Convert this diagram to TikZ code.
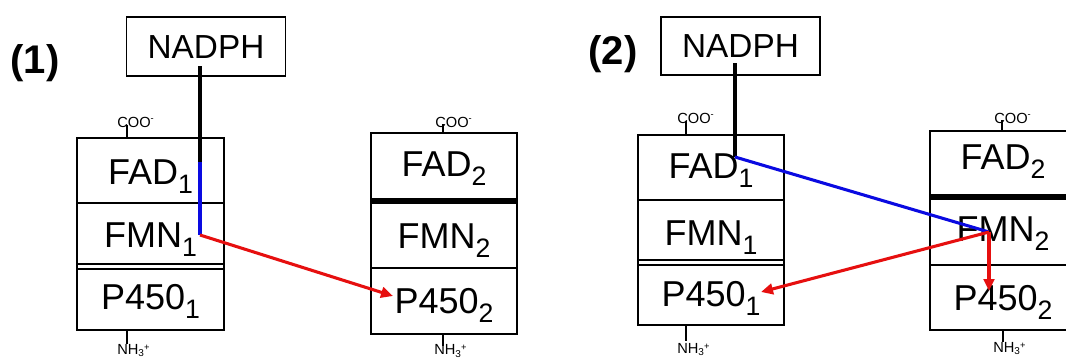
\documentclass[tikz,border=0pt]{standalone}
\usepackage{fontspec}
\setmainfont{Liberation Sans}
\usetikzlibrary{arrows.meta}
\definecolor{eblue}{RGB}{10,10,225}
\definecolor{ered}{RGB}{230,15,15}
\newcommand{\sbs}[1]{\raisebox{-7pt}{\fontsize{20}{20}\selectfont #1}}
\newcommand{\coo}{COO\raisebox{4pt}{\fontsize{7}{7}\selectfont -}}
\newcommand{\nhp}{NH\raisebox{-2pt}{\fontsize{7.5}{7.5}\selectfont 3}\raisebox{3pt}{\fontsize{7}{7}\selectfont +}}
\tikzset{
  outer/.style={draw, line width=2.2pt},
  divline/.style={line width=2.2pt},
  thickdiv/.style={line width=3.8pt},
  dblline/.style={line width=1.4pt},
  big/.style={font=\fontsize{27}{27}\selectfont, inner sep=0pt, anchor=base},
  nadtext/.style={font=\fontsize{25}{25}\selectfont, inner sep=0pt, anchor=base},
  lbl/.style={font=\fontsize{30}{30}\selectfont\bfseries, inner sep=0pt},
  small/.style={font=\fontsize{11}{11}\selectfont, inner sep=0pt, anchor=base west},
  tick/.style={line width=1pt},
  nadbox/.style={draw, line width=1.4pt, minimum width=119.25pt, minimum height=44pt, inner sep=0pt},
  blk/.style={line width=2.8pt, black},
  bl/.style={line width=2.3pt, eblue},
  rd/.style={line width=2.3pt, ered},
  arr/.style={-{Triangle[length=9pt,width=8pt]}},
}
\begin{document}
\begin{tikzpicture}[x=0.75pt,y=-0.75pt]
\useasboundingbox (0,0) rectangle (1066,358);

% ---------- Panel (1) ----------
\node[lbl] (lab1) at (35,63) {(1)};
\node[nadbox] (nad1) at (206,46.5) {};
\node[nadtext] (nad1t) at (206,58) {NADPH};

% left stack
\draw[outer] (77,138) rectangle (224,330);
\draw[divline] (77,203) -- (224,203);
\draw[dblline] (77,264.3) -- (224,264.3);
\draw[dblline] (77,268.7) -- (224,268.7);
\node[big] (fad1a) at (150.5,184) {FAD\sbs{1}};
\node[big] (fmn1a) at (150.5,247) {FMN\sbs{1}};
\node[big] (p1a) at (150.5,309) {P450\sbs{1}};
\node[small] (cooA) at (117,127) {\coo};
\draw[tick] (127,125) -- (127,138);
\node[small] (nhA) at (117,354) {\nhp};
\draw[tick] (127,330) -- (127,344);

% right stack
\draw[outer] (371,133) rectangle (517,334);
\draw[thickdiv] (371,201) -- (517,201);
\draw[divline] (371,268) -- (517,268);
\node[big] (fad2a) at (444,176) {FAD\sbs{2}};
\node[big] (fmn2a) at (444,248) {FMN\sbs{2}};
\node[big] (p2a) at (444,313) {P450\sbs{2}};
\node[small] (cooB) at (435,127) {\coo};
\draw[tick] (443,124) -- (443,133);
\node[small] (nhB) at (434,354.5) {\nhp};
\draw[tick] (443,334) -- (443,346);

% connectors (1)
\coordinate (a1) at (200,66);
\coordinate (a2) at (200,162);
\coordinate (a3) at (200,235);
\coordinate (a4) at (393,296);
\draw[blk] (a1) -- (a2);
\draw[bl] (a2) -- (a3);
\draw[rd,arr] (a3) -- (a4);

% ---------- Panel (2) ----------
\node[lbl] (lab2) at (613,54) {(2)};
\node[nadbox] (nad2) at (740.5,46) {};
\node[nadtext] (nad2t) at (740.5,57) {NADPH};

% left stack
\draw[outer] (638,135) rectangle (784,325);
\draw[divline] (638,200) -- (784,200);
\draw[dblline] (638,260.3) -- (784,260.3);
\draw[dblline] (638,264.7) -- (784,264.7);
\node[big] (fad1b) at (711,178) {FAD\sbs{1}};
\node[big] (fmn1b) at (711,245) {FMN\sbs{1}};
\node[big] (p1b) at (711,306) {P450\sbs{1}};
\node[small] (cooC) at (677,123) {\coo};
\draw[tick] (686,121) -- (686,135);
\node[small] (nhC) at (677,353) {\nhp};
\draw[tick] (686,325) -- (686,341);

% right stack (runs past the right edge)
\draw[outer] (930,131) rectangle (1076,330);
\draw[thickdiv] (930,197) -- (1076,197);
\draw[divline] (930,265) -- (1076,265);
\node[big] (fad2b) at (1003,169) {FAD\sbs{2}};
\node[big] (fmn2b) at (1003,241) {FMN\sbs{2}};
\node[big] (p2b) at (1003,310) {P450\sbs{2}};
\node[small] (cooD) at (994,123) {\coo};
\draw[tick] (1002,120) -- (1002,131);
\node[small] (nhD) at (993,352) {\nhp};
\draw[tick] (1003,330) -- (1003,342);

% connectors (2)
\coordinate (b1) at (735,63);
\coordinate (b2) at (735,157);
\coordinate (b3) at (989,232);
\coordinate (b4) at (761,292);
\coordinate (b5) at (989,291);
\draw[blk] (b1) -- (b2);
\draw[bl] (b2) -- (b3);
\draw[rd,arr] (b3) -- (b4);
\draw[rd,arr] (b3) -- (b5);
\end{tikzpicture}
\end{document}
